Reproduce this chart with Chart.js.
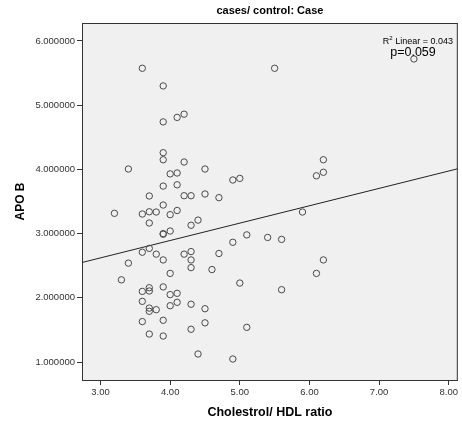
<!DOCTYPE html>
<html>
<head>
<meta charset="utf-8">
<script src="https://cdn.jsdelivr.net/npm/chart.js@4/dist/chart.umd.min.js"></script>
<style>
  html, body { margin: 0; padding: 0; background: #ffffff; }
  #wrap { width: 462px; height: 426px; position: relative; }
</style>
</head>
<body>
<div id="wrap"><canvas id="c" width="462" height="426"></canvas></div>
<script>
// ---- Data ----
const cholHdlRatio = [
  3.60, 3.90, 3.90, 4.10, 4.20, 3.90, 3.90, 4.20, 3.40, 4.50,
  4.00, 4.10, 3.90, 4.10, 4.90, 5.00, 5.50, 7.50, 6.20, 6.20,
  6.10, 3.70, 4.20, 4.30, 4.50, 4.70, 3.20, 3.60, 3.70, 3.80,
  3.90, 4.00, 4.10, 3.70, 4.40, 4.30, 3.90, 3.90, 4.00, 4.90,
  5.10, 5.40, 5.60, 5.90, 3.60, 3.70, 3.80, 3.90, 4.20, 4.30,
  4.30, 4.70, 3.40, 4.30, 4.60, 4.00, 3.30, 5.00, 6.20, 6.10,
  5.60, 3.60, 3.70, 3.70, 3.90, 4.00, 4.10, 3.60, 3.70, 3.70,
  3.80, 4.00, 4.10, 4.30, 4.50, 3.60, 3.90, 4.50, 4.30, 5.10,
  3.70, 3.90, 4.40, 4.90
];
const apoB = [
  5.575, 5.30, 4.74, 4.81, 4.86, 4.26, 4.15, 4.115, 4.006, 4.006,
  3.93, 3.944, 3.74, 3.76, 3.835, 3.86, 5.575, 5.72, 4.15, 3.955,
  3.90, 3.586, 3.59, 3.59, 3.617, 3.56, 3.316, 3.305, 3.34, 3.336,
  3.445, 3.295, 3.36, 3.165, 3.21, 3.13, 3.00, 2.99, 3.04, 2.865,
  2.98, 2.94, 2.91, 3.336, 2.71, 2.77, 2.68, 2.59, 2.68, 2.72,
  2.59, 2.69, 2.54, 2.47, 2.44, 2.38, 2.28, 2.23, 2.59, 2.38,
  2.126, 2.10, 2.157, 2.106, 2.17, 2.05, 2.07, 1.945, 1.84, 1.79,
  1.815, 1.877, 1.93, 1.90, 1.83, 1.63, 1.65, 1.61, 1.51, 1.54,
  1.436, 1.405, 1.125, 1.047
];
// Fit line endpoints (read at the plot edges)
const fitX = [2.734, 8.13];
const fitY = [2.55, 4.01];
// Axis ticks
const xTicks = [3, 4, 5, 6, 7, 8];
const yTicks = [1, 2, 3, 4, 5, 6];
const xRange = [2.734, 8.13];
const yRange = [0.72, 6.28];
// Texts
const chartTitle = 'cases/ control: Case';
const xTitle = 'Cholestrol/ HDL ratio';
const yTitle = 'APO B';
const r2Text = ' Linear = 0.043';
const pText = 'p=0.059';

const points = cholHdlRatio.map((x, i) => ({ x: x, y: apoB[i] }));
const fitPoints = fitX.map((x, i) => ({ x: x, y: fitY[i] }));

const FONT = '"Liberation Sans", Arial, sans-serif';

const framePlugin = {
  id: 'frame',
  beforeDraw(chart) {
    const { ctx, chartArea: a } = chart;
    ctx.save();
    ctx.fillStyle = '#ffffff';
    ctx.fillRect(0, 0, chart.width, chart.height);
    ctx.fillStyle = '#f0f0f0';
    ctx.fillRect(a.left, a.top, a.right - a.left, a.bottom - a.top);
    ctx.restore();
  },
  afterDraw(chart) {
    const { ctx, chartArea: a } = chart;
    ctx.save();
    ctx.strokeStyle = '#333333';
    ctx.lineWidth = 1;
    ctx.beginPath();
    ctx.moveTo(a.left, a.top + 0.5);
    ctx.lineTo(a.right, a.top + 0.5);
    ctx.moveTo(a.right - 0.5, a.top);
    ctx.lineTo(a.right - 0.5, a.bottom);
    ctx.stroke();
    // title
    ctx.fillStyle = '#000000';
    ctx.font = 'bold 11px ' + FONT;
    ctx.textAlign = 'center';
    ctx.textBaseline = 'middle';
    ctx.fillText(chartTitle, (a.left + a.right) / 2, 11);
    // R² annotation
    ctx.font = '9px ' + FONT;
    ctx.textAlign = 'right';
    ctx.textBaseline = 'alphabetic';
    const rw = ctx.measureText(r2Text).width;
    ctx.fillText(r2Text, 453, 44);
    ctx.font = '6px ' + FONT;
    ctx.fillText('2', 453 - rw, 40);
    const sw = ctx.measureText('2').width;
    ctx.font = '9px ' + FONT;
    ctx.fillText('R', 453 - rw - sw, 44);
    ctx.font = '12.5px ' + FONT;
    ctx.textAlign = 'center';
    ctx.fillText(pText, 413, 56);
    ctx.restore();
  }
};

new Chart(document.getElementById('c'), {
  type: 'scatter',
  data: {
    datasets: [
      {
        label: 'APO B',
        data: points,
        pointStyle: 'circle',
        pointRadius: 3.2,
        pointHoverRadius: 3.2,
        borderWidth: 1,
        borderColor: '#4a4a4a',
        backgroundColor: 'rgba(0,0,0,0)'
      },
      {
        type: 'line',
        label: 'Fit',
        data: fitPoints,
        showLine: true,
        pointRadius: 0,
        borderWidth: 1,
        borderColor: '#222222',
        fill: false
      }
    ]
  },
  options: {
    responsive: false,
    animation: false,
    events: [],
    layout: { padding: { top: 23, right: 1, left: 0, bottom: 0 } },
    plugins: {
      legend: { display: false },
      title: { display: false },
      tooltip: { enabled: false }
    },
    scales: {
      x: {
        type: 'linear',
        min: xRange[0],
        max: xRange[1],
        afterBuildTicks: s => { s.ticks = xTicks.map(v => ({ value: v })); },
        afterFit: s => { s.height = 46; },
        border: { display: true, color: '#333333', width: 1 },
        grid: { display: true, drawOnChartArea: false, drawTicks: true, tickLength: 5, color: '#333333' },
        ticks: {
          autoSkip: false,
          maxRotation: 0,
          padding: 2,
          color: '#333333',
          font: { family: FONT, size: 9.5 },
          callback: v => Number(v).toFixed(2)
        },
        title: {
          display: true,
          text: xTitle,
          color: '#000000',
          font: { family: FONT, size: 12.5, weight: 'bold' },
          padding: { top: 0, bottom: 6 }
        }
      },
      y: {
        type: 'linear',
        min: yRange[0],
        max: yRange[1],
        afterBuildTicks: s => { s.ticks = yTicks.map(v => ({ value: v })); },
        afterFit: s => { s.width = 82; },
        border: { display: true, color: '#333333', width: 1 },
        grid: { display: true, drawOnChartArea: false, drawTicks: true, tickLength: 5, color: '#333333' },
        ticks: {
          autoSkip: false,
          padding: 2,
          color: '#333333',
          font: { family: FONT, size: 9.5 },
          callback: v => Number(v).toFixed(6)
        },
        title: {
          display: true,
          text: yTitle,
          color: '#000000',
          font: { family: FONT, size: 12, weight: 'bold' },
          padding: { top: 13, bottom: 0 }
        }
      }
    }
  },
  plugins: [framePlugin]
});
</script>
</body>
</html>
